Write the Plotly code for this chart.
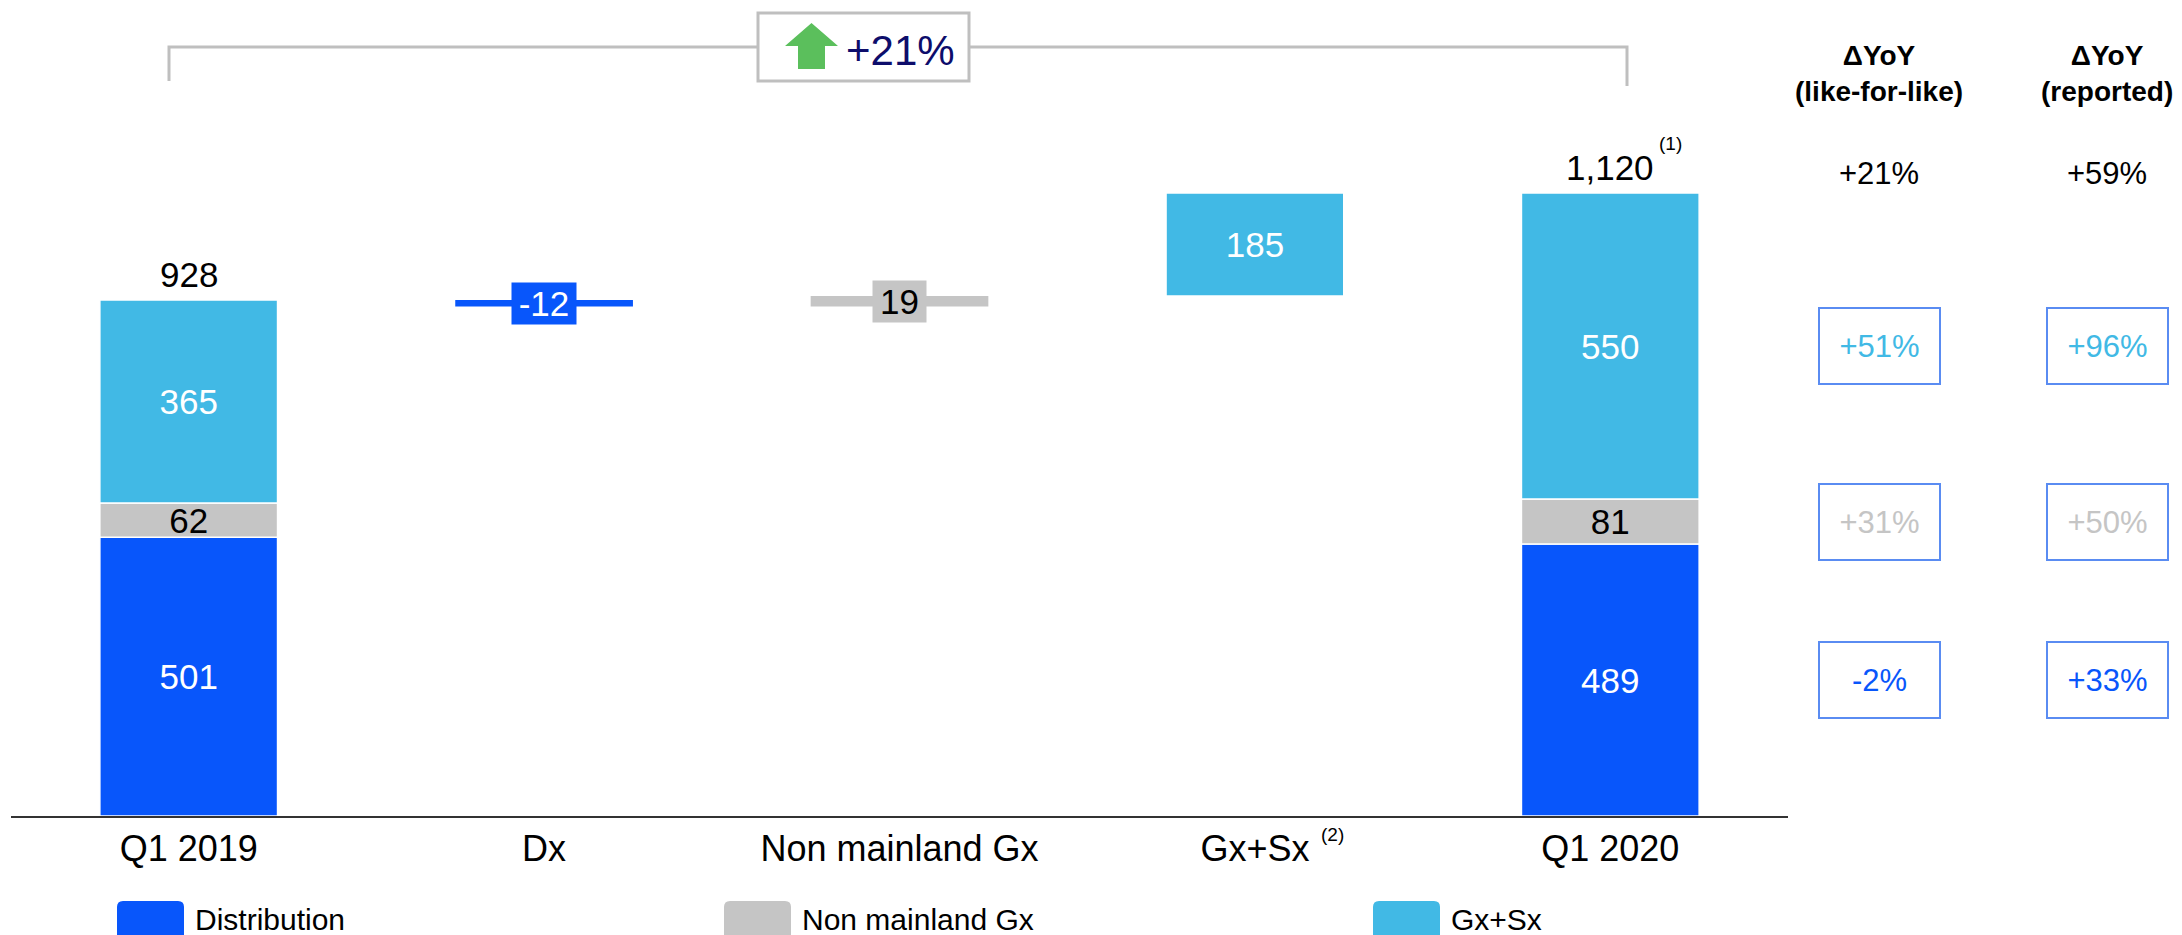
import plotly.graph_objects as go

# Data
CATEGORIES = ["Q1 2019", "Dx", "Non mainland Gx", "Gx+Sx", "Q1 2020"]
SEGMENTS = ["Distribution", "Non mainland Gx", "Gx+Sx"]
Q1_2019 = [501, 62, 365]
Q1_2020 = [489, 81, 550]
BRIDGE = [-12, 19, 185]  # Dx, Non mainland Gx, Gx+Sx
YOY_LFL = ["-2%", "+31%", "+51%"]
YOY_REPORTED = ["+33%", "+50%", "+96%"]
TOTAL_LFL = "+21%"
TOTAL_REPORTED = "+59%"
GROWTH_LABEL = "+21%"

# Style
COLORS = ["#0856FB", "#C5C5C5", "#41B9E5"]
LABEL_COLORS = ["white", "black", "white"]
BOX_BORDER = "#5A8CF2"
BRACKET_GRAY = "#BFBFBF"
NAVY = "#0D0D6B"
GREEN = "#5BBF5C"
FONT = "Arial, Liberation Sans, sans-serif"

# page is offset by the 8px body margin, so the figure is trimmed to match
PAGE_OFFSET = 8
W, H = 2182 - PAGE_OFFSET, 935 - PAGE_OFFSET
PLOT_L, PLOT_R, PLOT_T, PLOT_B = 11, 1788, 93, 816
Y_MAX = 1300


def xp(px):
    return (px - PLOT_L) / (PLOT_R - PLOT_L)


def yp(py):
    return (PLOT_B - py) / (PLOT_B - PLOT_T)


def fmt(v):
    return f"{v:,}"


total_2019 = sum(Q1_2019)
total_2020 = sum(Q1_2020)

fig = go.Figure()
annotations = []
running = total_2019
for i, seg in enumerate(SEGMENTS):
    base_2019 = sum(Q1_2019[:i])
    base_2020 = sum(Q1_2020[:i])
    small_step = abs(BRIDGE[i]) < 50
    fig.add_trace(
        go.Bar(
            x=["Q1 2019", CATEGORIES[i + 1], "Q1 2020"],
            y=[Q1_2019[i], BRIDGE[i], Q1_2020[i]],
            base=[base_2019, running, base_2020],
            name=seg,
            marker_color=COLORS[i],
            marker_line_color="white",
            marker_line_width=[1.5, 0 if small_step else 1.5, 1.5],
            text=[fmt(Q1_2019[i]), "" if small_step else fmt(BRIDGE[i]), fmt(Q1_2020[i])],
            textposition="inside",
            insidetextanchor="middle",
            textangle=0,
            constraintext="none",
            textfont=dict(family=FONT, size=35, color=LABEL_COLORS[i]),
            showlegend=False,
            hoverinfo="skip",
        )
    )
    if small_step:
        annotations.append(
            dict(
                x=CATEGORIES[i + 1], y=running + BRIDGE[i] / 2, xref="x", yref="y",
                xanchor="center", yanchor="middle",
                text=fmt(BRIDGE[i]), showarrow=False, bgcolor=COLORS[i],
                borderpad=1, width=62 if BRIDGE[i] < 0 else 51,
                font=dict(family=FONT, size=35, color=LABEL_COLORS[i]),
            )
        )
    running += BRIDGE[i]

# Totals on top of the start / end bars
for cat, tot in [("Q1 2019", total_2019), ("Q1 2020", total_2020)]:
    annotations.append(
        dict(x=cat, y=tot, xref="x", yref="y", text=fmt(tot), showarrow=False,
             xanchor="center", yanchor="bottom", yshift=4,
             font=dict(family=FONT, size=35, color="black"))
    )
annotations.append(
    dict(x="Q1 2020", y=total_2020, xref="x", yref="y", text="(1)", showarrow=False,
         xanchor="center", yanchor="middle", xshift=60, yshift=50,
         font=dict(family=FONT, size=19, color="black"))
)
annotations.append(
    dict(x="Gx+Sx", y=yp(835), xref="x", yref="paper", text="(2)", showarrow=False,
         xanchor="center", yanchor="middle", xshift=78,
         font=dict(family=FONT, size=19, color="black"))
)

# Growth bracket
shapes = []
bracket_y = yp(47)
shapes.append(dict(type="path", xref="paper", yref="paper",
                   path=f"M {xp(169)} {yp(81)} L {xp(169)} {bracket_y} L {xp(1627)} {bracket_y} L {xp(1627)} {yp(86)}",
                   line=dict(color=BRACKET_GRAY, width=3)))
shapes.append(dict(type="rect", xref="paper", yref="paper",
                   x0=xp(758), x1=xp(969), y0=yp(81), y1=yp(13),
                   fillcolor="white", line=dict(color=BRACKET_GRAY, width=3)))
arrow = [(811.5, 23), (838, 46), (825, 46), (825, 69), (798, 69), (798, 46), (785, 46)]
shapes.append(dict(type="path", xref="paper", yref="paper",
                   path="M " + " L ".join(f"{xp(a)} {yp(b)}" for a, b in arrow) + " Z",
                   fillcolor=GREEN, line=dict(width=0)))
annotations.append(
    dict(x=xp(900.5), y=yp(51), xref="paper", yref="paper", text=GROWTH_LABEL,
         xanchor="center", yanchor="middle",
         showarrow=False, font=dict(family=FONT, size=42, color=NAVY))
)

# YoY table on the right
col_x = [xp(1879), xp(2107)]
headers = ["<b>ΔYoY<br>(like-for-like)</b>", "<b>ΔYoY<br>(reported)</b>"]
for cx, head in zip(col_x, headers):
    annotations.append(dict(x=cx, y=yp(73), xref="paper", yref="paper", text=head,
                            xanchor="center", yanchor="middle",
                            showarrow=False, font=dict(family=FONT, size=28, color="black")))
for cx, val in zip(col_x, [TOTAL_LFL, TOTAL_REPORTED]):
    annotations.append(dict(x=cx, y=total_2020, xref="paper", yref="y", text=val,
                            xanchor="center", yanchor="middle",
                            showarrow=False, yshift=20, font=dict(family=FONT, size=31, color="black")))
for i in range(len(SEGMENTS)):
    mid = sum(Q1_2020[:i]) + Q1_2020[i] / 2
    for cx, vals in zip(col_x, [YOY_LFL, YOY_REPORTED]):
        annotations.append(
            dict(x=cx, y=mid, xref="paper", yref="y", text=vals[i], showarrow=False,
                 xanchor="center", yanchor="middle",
                 width=119, height=74, borderpad=0, bordercolor=BOX_BORDER, borderwidth=2,
                 font=dict(family=FONT, size=31, color=COLORS[i]))
        )

# Custom legend at the bottom
legend_swatch_x = [117, 724, 1373]
swatch_w, r = 67, 6
for i, seg in enumerate(SEGMENTS):
    x0 = legend_swatch_x[i]
    x1 = x0 + swatch_w
    y0, y1 = 901, 945
    path = (
        f"M {xp(x0)} {yp(y1)} L {xp(x0)} {yp(y0 + r)} Q {xp(x0)} {yp(y0)} {xp(x0 + r)} {yp(y0)} "
        f"L {xp(x1 - r)} {yp(y0)} Q {xp(x1)} {yp(y0)} {xp(x1)} {yp(y0 + r)} L {xp(x1)} {yp(y1)} Z"
    )
    shapes.append(dict(type="path", xref="paper", yref="paper", path=path,
                       fillcolor=COLORS[i], line=dict(width=0)))
    annotations.append(dict(x=xp(x1 + 9), y=yp(919), xref="paper", yref="paper", text=seg,
                            showarrow=False, xanchor="left", yanchor="middle",
                            font=dict(family=FONT, size=30, color="black")))

fig.update_layout(
    width=W,
    height=H,
    barmode="overlay",
    bargap=0.5,
    plot_bgcolor="white",
    paper_bgcolor="white",
    margin=dict(l=PLOT_L - PAGE_OFFSET, r=W - (PLOT_R - PAGE_OFFSET),
                t=PLOT_T - PAGE_OFFSET, b=H - (PLOT_B - PAGE_OFFSET), pad=0),
    font=dict(family=FONT, color="black"),
    xaxis=dict(type="category", categoryorder="array", categoryarray=CATEGORIES,
               showline=True, linecolor="#333333", linewidth=2, showgrid=False,
               ticks="", tickfont=dict(family=FONT, size=36, color="black"),
               fixedrange=True),
    yaxis=dict(range=[0, Y_MAX], visible=False, showgrid=False, fixedrange=True),
    annotations=annotations,
    shapes=shapes,
    showlegend=False,
)

fig.write_html("out.html")
